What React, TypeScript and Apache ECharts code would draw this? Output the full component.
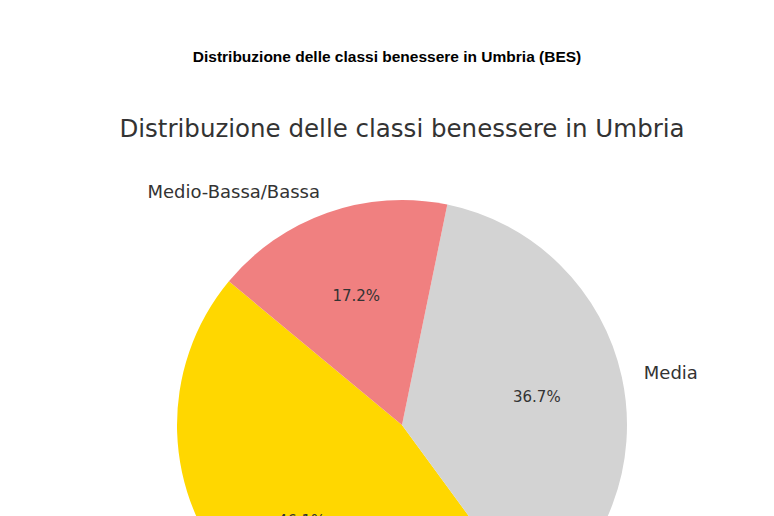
import React, { useEffect, useRef } from 'react';
import * as echarts from 'echarts';

// classi benessere e quote (%)
const classi = ['Medio-Alta/Alta', 'Media', 'Medio-Bassa/Bassa'];
const quote = [46.1, 36.7, 17.2];

const colori = ['#FFD700', '#D3D3D3', '#F08080'];

const App: React.FC = () => {
  const chartRef = useRef<HTMLDivElement>(null);

  useEffect(() => {
    if (!chartRef.current) return;
    document.body.style.margin = '0';

    const chart = echarts.init(chartRef.current, undefined, { renderer: 'svg' });

    const totale = quote.reduce((a, b) => a + b, 0);
    const center = [402, 425];
    const r = 225;

    const option: echarts.EChartsOption = {
      animation: false,
      backgroundColor: '#ffffff',
      color: colori,
      title: [
        {
          text: 'Distribuzione delle classi benessere in Umbria (BES)',
          left: 'center',
          top: 43,
          textStyle: {
            fontFamily: 'Liberation Sans, Arial, sans-serif',
            fontWeight: 'bold',
            fontSize: 15.5,
            color: '#000',
          },
        },
        {
          text: 'Distribuzione delle classi benessere in Umbria',
          left: 397,
          textAlign: 'center',
          top: 111,
          textStyle: {
            fontFamily: 'DejaVu Sans',
            fontWeight: 'normal',
            fontSize: 24.5,
            color: '#333',
          },
        },
      ],
      series: [
        {
          // fette con etichette esterne
          type: 'pie',
          center,
          radius: [0, r],
          startAngle: 140.3,
          clockwise: false,
          avoidLabelOverlap: false,
          silent: true,
          label: {
            show: true,
            position: 'outside',
            alignTo: 'none',
            distanceToLabelLine: 0,
            fontFamily: 'DejaVu Sans',
            fontSize: 18,
            color: '#333',
            formatter: '{b}',
          },
          labelLine: { show: false, length: r * 0.1, length2: 0 },
          data: classi.map((name, i) => ({ name, value: quote[i] })),
        },
        {
          // livello trasparente per le percentuali (a 0.6 del raggio)
          type: 'pie',
          center,
          radius: [0, r * 1.2],
          startAngle: 140.3,
          clockwise: false,
          silent: true,
          itemStyle: { color: 'transparent', borderWidth: 0 },
          label: {
            show: true,
            position: 'inside',
            offset: [0, 1],
            fontFamily: 'DejaVu Sans',
            fontSize: 15,
            color: '#333',
            formatter: (p: any) => ((p.value / totale) * 100).toFixed(1) + '%',
          },
          labelLine: { show: false },
          data: classi.map((name, i) => ({ name, value: quote[i] })),
        },
      ],
    };

    chart.setOption(option);

    return () => {
      chart.dispose();
    };
  }, []);

  return <div ref={chartRef} style={{ width: '774px', height: '516px' }} />;
};

export default App;
